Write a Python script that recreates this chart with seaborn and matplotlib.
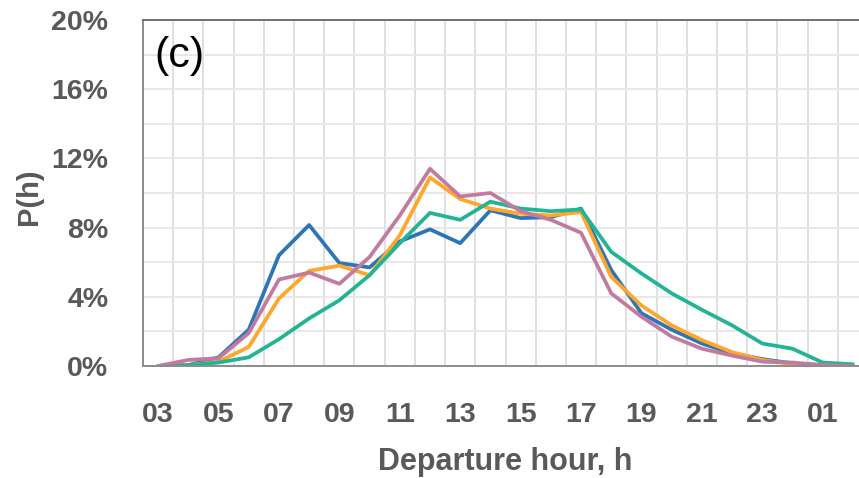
import numpy as np
import matplotlib
matplotlib.use('Agg')
import matplotlib.pyplot as plt
from matplotlib.ticker import FixedLocator, PercentFormatter
import seaborn as sns
import pandas as pd

# hours 03 .. 23, then 00, 01, 02 of the next day (plotted as 24, 25, 26)
hours = list(range(3, 27))
hour_labels = ['%02d' % (h % 24) for h in hours]

# P(h) in percent
s1 = [0.0, 0.05, 0.5, 2.1, 6.4, 8.15, 5.95, 5.7, 7.2, 7.9, 7.1, 9.0,
      8.55, 8.6, 9.1, 5.55, 3.05, 2.1, 1.3, 0.74, 0.4, 0.15, 0.05, 0.0]
s2 = [0.0, 0.05, 0.25, 1.1, 3.9, 5.5, 5.8, 5.25, 7.55, 10.9, 9.65, 9.1,
      8.8, 8.7, 8.9, 5.15, 3.5, 2.35, 1.5, 0.8, 0.35, 0.1, 0.05, 0.0]
s3 = [0.0, 0.05, 0.2, 0.5, 1.55, 2.75, 3.8, 5.25, 7.1, 8.85, 8.45, 9.5,
      9.1, 8.95, 9.05, 6.6, 5.35, 4.2, 3.25, 2.35, 1.3, 1.0, 0.2, 0.1]
s4 = [0.0, 0.35, 0.45, 1.9, 5.0, 5.4, 4.75, 6.3, 8.7, 11.4, 9.8, 10.0,
      8.95, 8.45, 7.7, 4.2, 2.85, 1.7, 1.0, 0.6, 0.25, 0.2, 0.05, 0.0]

series = {'S1': s1, 'S2': s2, 'S3': s3, 'S4': s4}
colors = {'S1': '#2E75B6', 'S2': '#FFA62B', 'S3': '#22B495', 'S4': '#C27BA0'}

df = pd.concat([pd.DataFrame({'hour': hours, 'P': v, 'series': k})
                for k, v in series.items()], ignore_index=True)

sns.set_style('white')
plt.rcParams['font.family'] = ['Liberation Sans', 'DejaVu Sans']

fig = plt.figure(figsize=(8.59, 4.78), dpi=100)
# axes run a little past the right edge, as in the cropped original
ax = fig.add_axes([143 / 859, 112 / 478, 725 / 859, 346 / 478])

sns.lineplot(data=df, x='hour', y='P', hue='series', palette=colors,
             linewidth=2.7, legend=False, ax=ax)

ax.set_xlim(2.5, 26.5)
ax.set_ylim(0, 20)

ax.xaxis.set_major_locator(FixedLocator(hours[::2]))
ax.set_xticklabels(hour_labels[::2])
ax.xaxis.set_minor_locator(FixedLocator(np.arange(3.5, 26.5, 1)))
ax.set_yticks(np.arange(0, 21, 4))
ax.yaxis.set_minor_locator(FixedLocator(np.arange(2, 20, 4)))
ax.yaxis.set_major_formatter(PercentFormatter(decimals=0))

ax.grid(False)
ax.grid(which='minor', axis='x', color='#DDDDDD', linewidth=1.3)
ax.grid(which='both', axis='y', color='#E6E6E6', linewidth=1.3)
ax.set_axisbelow(True)

ax.tick_params(axis='both', which='both', length=0)
ax.tick_params(axis='x', pad=26, labelsize=20.5, labelcolor='#595959')
ax.tick_params(axis='y', pad=25, labelsize=20.5, labelcolor='#595959')
for lab in ax.get_xticklabels() + ax.get_yticklabels():
    lab.set_fontweight('bold')

for side in ['left', 'bottom', 'top']:
    ax.spines[side].set_color('#8C8C8C')
    ax.spines[side].set_linewidth(1.4)
ax.spines['top'].set_color('#707070')
ax.spines['right'].set_visible(False)

ax.set_xlabel('Departure hour, h', fontsize=22, fontweight='bold', color='#595959')
ax.xaxis.set_label_coords(0.5, -(462 - 366) / 346)
ax.xaxis.label.set_va('center')
ax.set_ylabel('P(h)', fontsize=21, fontweight='bold', color='#595959')
ax.yaxis.set_label_coords(-(143 - 29) / 725, 0.49)
ax.yaxis.label.set_va('center')

ax.text(0.016, 0.895, '(c)', transform=ax.transAxes, fontsize=31,
        color='black', ha='left', va='center')

fig.savefig('out.png', dpi=100)
